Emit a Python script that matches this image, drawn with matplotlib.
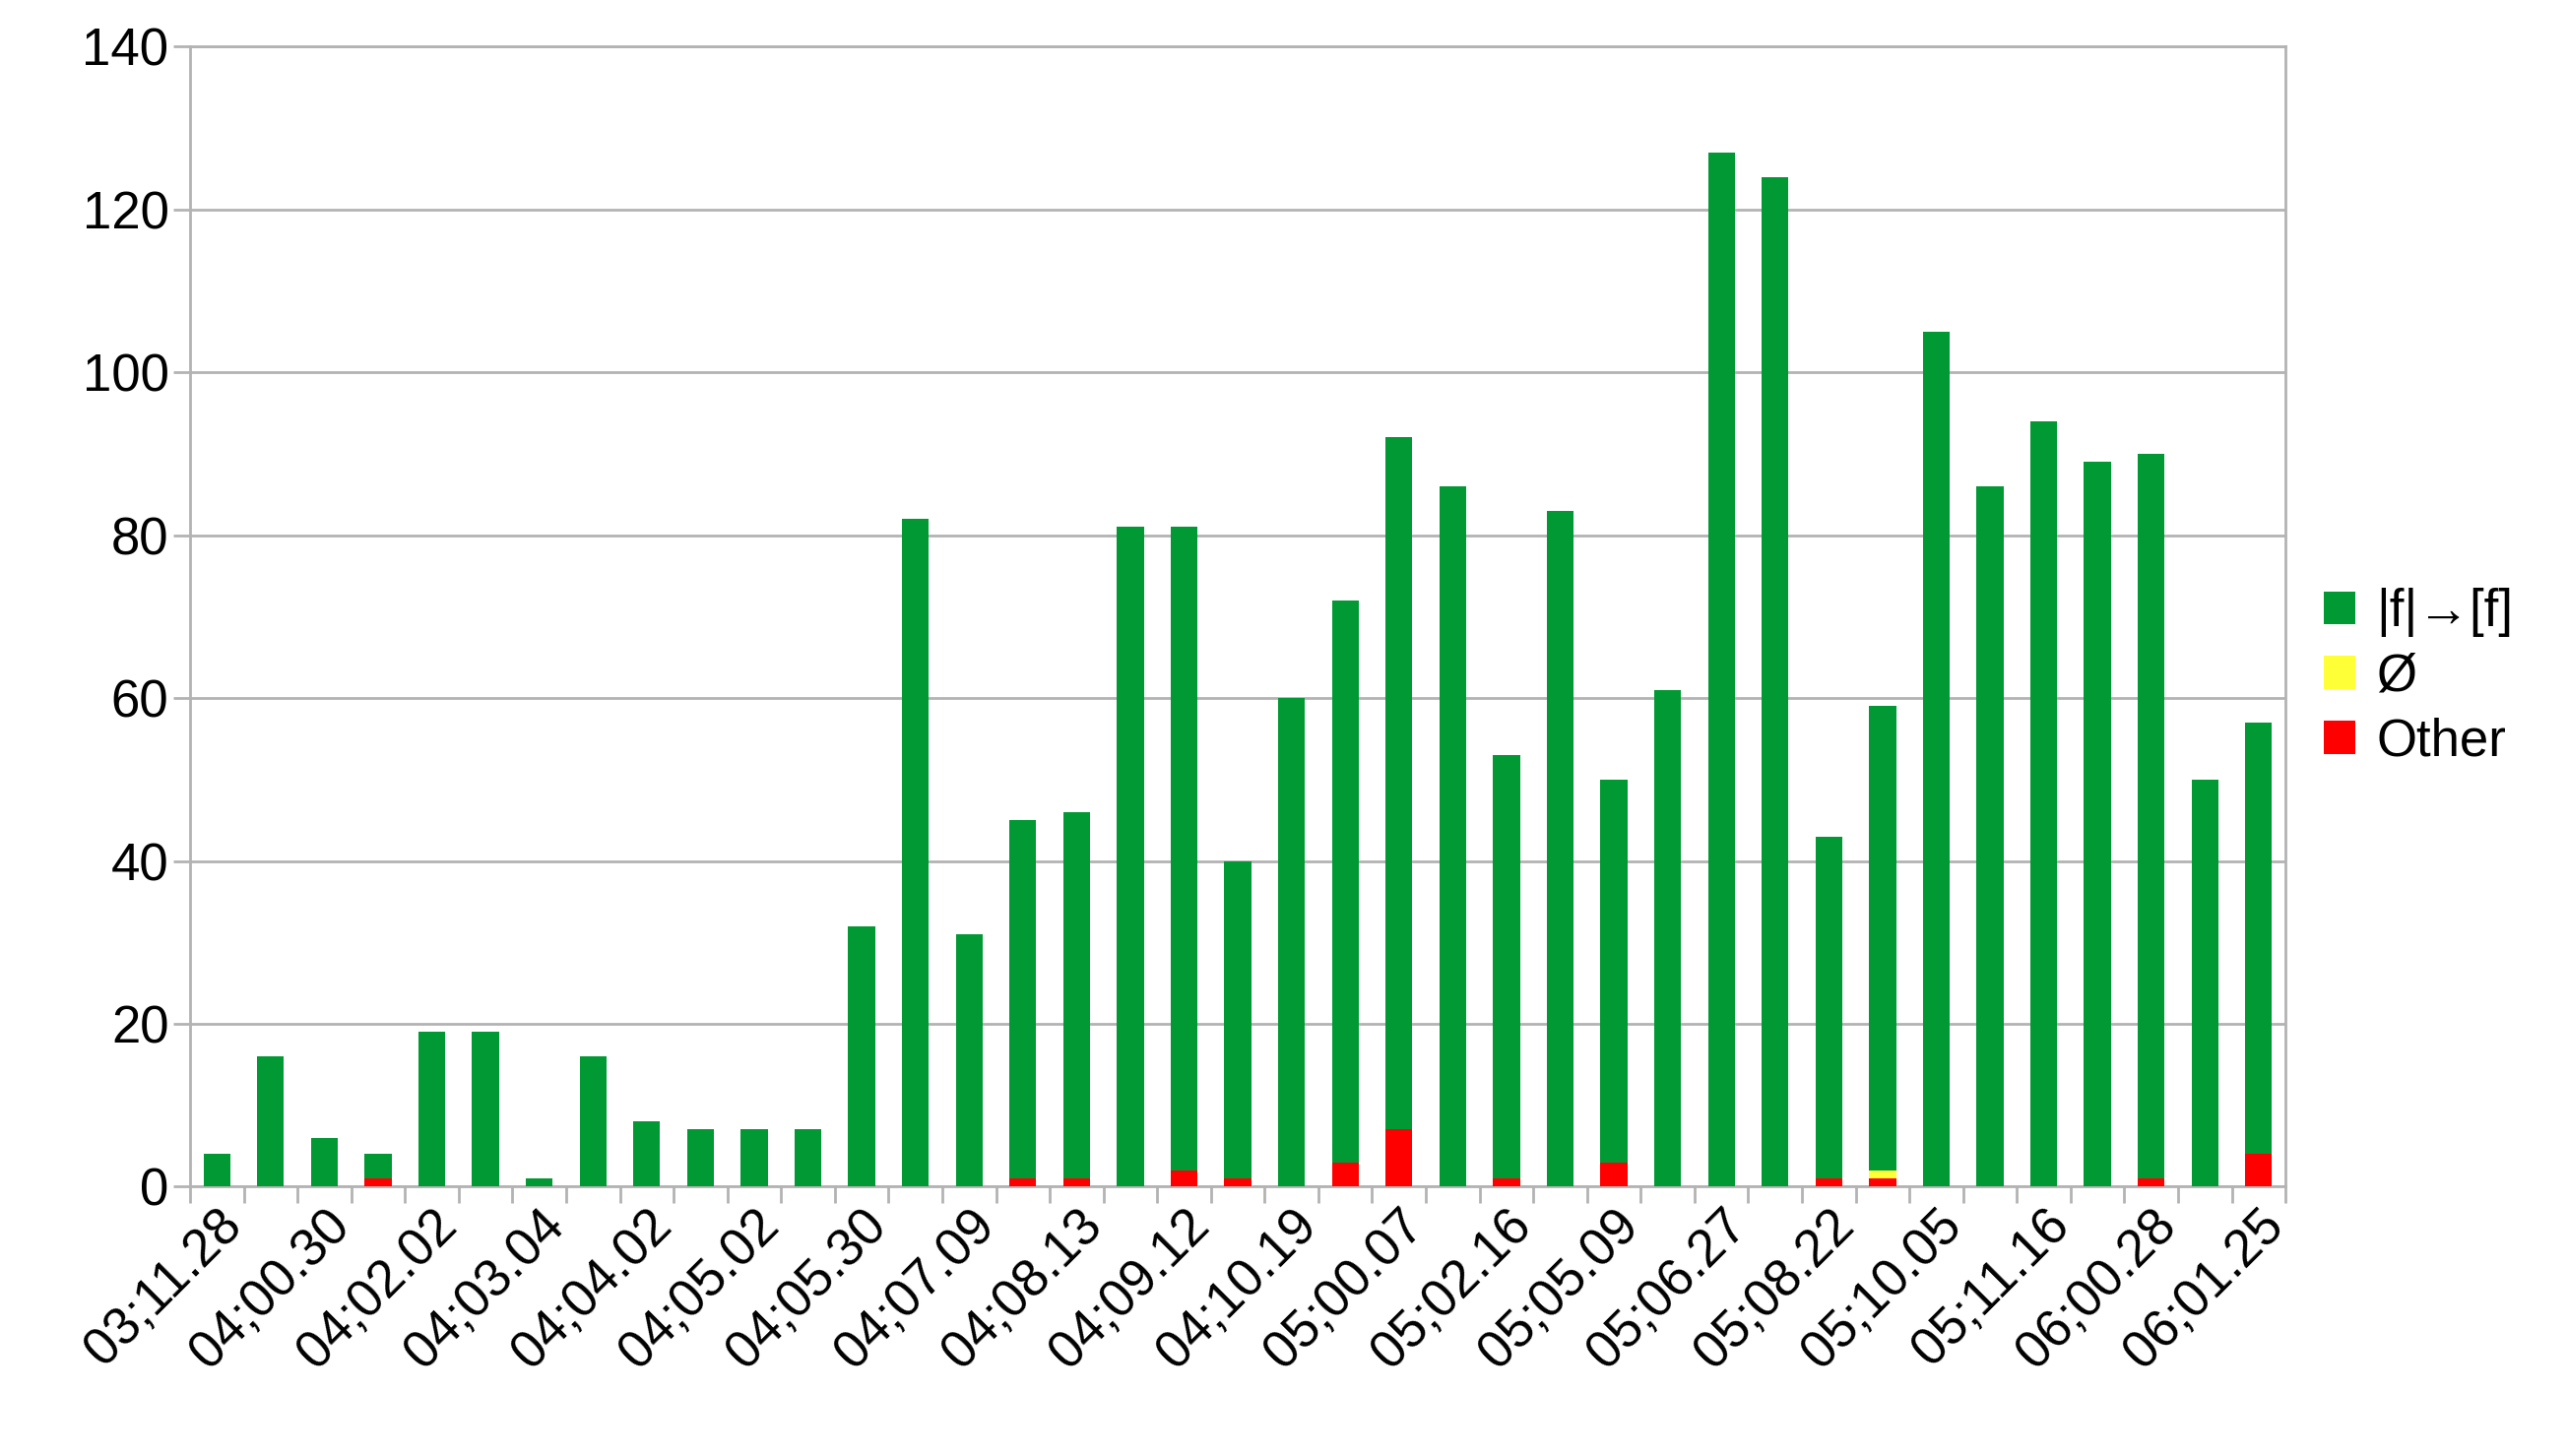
import matplotlib
matplotlib.use("Agg")
import matplotlib.pyplot as plt
import numpy as np

plt.rcParams['font.family'] = ['Liberation Sans', 'DejaVu Sans']

labels_all = ["03;11.28","","04;00.30","","04;02.02","","04;03.04","","04;04.02","","04;05.02","",
              "04;05.30","","04;07.09","","04;08.13","","04;09.12","","04;10.19","","05;00.07","",
              "05;02.16","","05;05.09","","05;06.27","","05;08.22","","05;10.05","","05;11.16","",
              "06;00.28","","06;01.25"]
totals = [4,16,6,4,19,19,1,16,8,7,7,7,32,82,31,45,46,81,81,40,60,72,92,86,53,83,50,61,127,124,43,59,105,86,94,89,90,50,57]
other = [0,0,0,1,0,0,0,0,0,0,0,0,0,0,0,1,1,0,2,1,0,3,7,0,1,0,3,0,0,0,1,1,0,0,0,0,1,0,4]
null = [0]*39
null[31] = 1
green = [t - o - n for t, o, n in zip(totals, other, null)]

fig = plt.figure(figsize=(26.08, 14.79), dpi=100)
ax = fig.add_axes([0.074, 0.185, 0.816, 0.783])
x = np.arange(len(totals))
w = 0.5
ax.bar(x, other, w, color="#ff0000", label="Other", zorder=3)
ax.bar(x, null, w, bottom=other, color="#ffff38", label="Ø", zorder=3)
ax.bar(x, green, w, bottom=np.array(other) + np.array(null), color="#009933", label="|f|→[f]", zorder=3)
ax.set_xlim(-0.5, len(totals) - 0.5)
ax.set_ylim(0, 140)
ax.set_yticks(range(0, 141, 20))
ax.yaxis.grid(True, color="#b3b3b3", linewidth=2, zorder=0)
ax.set_xticks(x)
ax.set_xticklabels(labels_all, rotation=45, ha="right", rotation_mode="anchor")
ax.set_xticks(np.arange(-0.5, len(totals), 1), minor=True)
ax.tick_params(axis="x", which="major", length=0, labelsize=38, pad=10)
ax.tick_params(axis="x", which="minor", length=12, color="#b3b3b3", width=2)
ax.tick_params(axis="y", labelsize=38, length=12, color="#b3b3b3", width=2)
for s in ax.spines.values():
    s.set_color("#b3b3b3"); s.set_linewidth(2)
h, l = ax.get_legend_handles_labels()
fig.legend(h[::-1], l[::-1], loc="center left", bbox_to_anchor=(0.905, 0.535), frameon=False,
           fontsize=38, handlelength=0.6, handleheight=0.6, handletextpad=0.4, labelspacing=0.3,
           borderaxespad=0, borderpad=0)
fig.savefig("out.png", dpi=100)
